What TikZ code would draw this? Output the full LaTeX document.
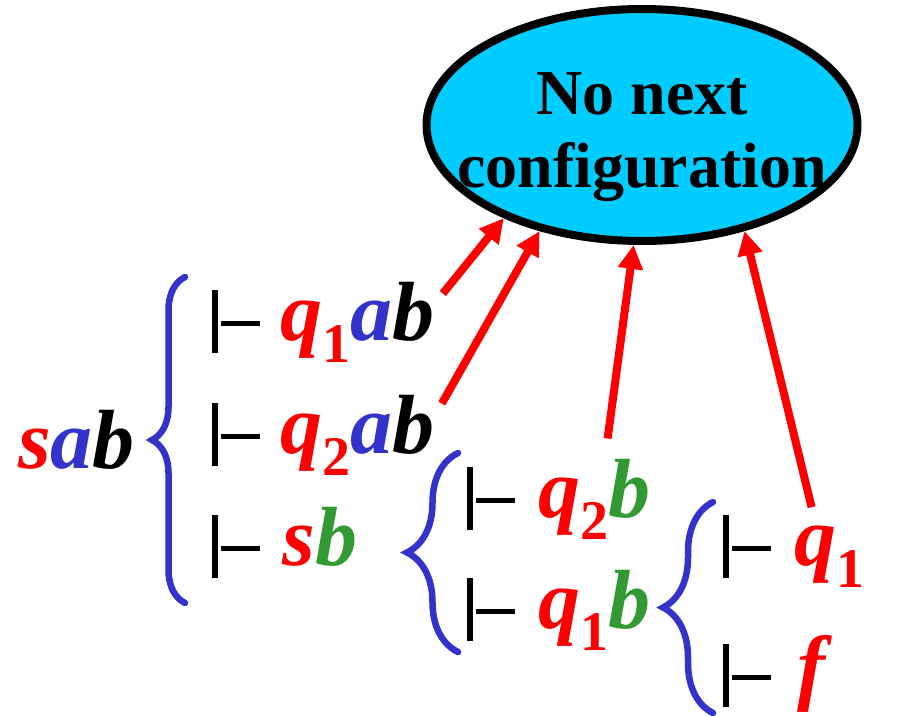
\documentclass[tikz,border=0pt]{standalone}
\usepackage{fontspec}
\setmainfont{Liberation Serif}
\usetikzlibrary{positioning,arrows.meta,decorations.pathreplacing,shapes.geometric}

\definecolor{arred}{HTML}{FF0000}
\definecolor{grpblue}{HTML}{3333CC}
\definecolor{symgreen}{HTML}{339933}
\definecolor{haltcyan}{HTML}{00CCFF}

% turnstile, built from two rules
\newcommand\tst{\rule[-13pt]{6pt}{63pt}\hspace{3pt}\rule[14pt]{39pt}{5pt}}
\newcommand\sbs[1]{\raisebox{-22pt}{\upshape\fontsize{56}{56}\selectfont #1}}

\begin{document}
\begin{tikzpicture}[x=1pt,y=-1pt,
  conf/.style={inner sep=0pt,font=\fontsize{84}{90}\selectfont\bfseries\itshape},
  ts/.style={inner sep=0pt,anchor=base west},
  halt/.style={ellipse,draw=black,line width=8pt,fill=haltcyan,minimum width=431pt,minimum height=232pt,inner sep=0pt},
  hlbl/.style={align=center,inner sep=0pt,font=\fontsize{64}{73}\selectfont\bfseries},
  grp/.style={draw=grpblue,line width=6.5pt,line cap=round,decorate},
  ar/.style={-{Triangle[length=24pt,width=24pt]},line width=8pt,draw=arred,fill=arred}]
\useasboundingbox (0,0) rectangle (897,715);
\node[halt](cfg) at (642,125) {};
\node[hlbl](cfgl) at (642,137) {No next\\configuration};
% start configuration
\node[conf,anchor=base west](c0) at (18,468) {\textcolor{arred}{s}\textcolor{grpblue}{a}b};
\node[ts](y1) at (212,340) {\tst};
\node[conf,base right=20pt of y1](c1) {\textcolor{arred}{q\sbs{1}}\textcolor{grpblue}{a}b};
\node[ts](y2) at (212,453) {\tst};
\node[conf,base right=20pt of y2](c2) {\textcolor{arred}{q\sbs{2}}\textcolor{grpblue}{a}b};
\node[ts](y3) at (212,565) {\tst};
\node[conf,base right=22pt of y3](c3) {\textcolor{arred}{s}\textcolor{symgreen}{b}};
% from sb
\node[ts](y4) at (467,517) {\tst};
\node[conf,base right=23pt of y4](c4) {\textcolor{arred}{q\sbs{2}}\textcolor{symgreen}{b}};
\node[ts](y5) at (467,628) {\tst};
\node[conf,base right=23pt of y5](c5) {\textcolor{arred}{q\sbs{1}}\textcolor{symgreen}{b}};
% from q1b
\node[ts](y6) at (723,565) {\tst};
\node[conf,base right=23pt of y6](c6) {\textcolor{arred}{q\sbs{1}}};
\node[ts](y7) at (723,694) {\tst};
\node[conf,base right=26pt of y7](c7) {\textcolor{arred}{f}};
% braces
\draw[grp,decoration={brace,amplitude=33pt}] (185,603) -- (185,277);
\draw[grp,decoration={brace,amplitude=51pt}] (458,652) -- (458,453);
\draw[grp,decoration={brace,amplitude=50pt}] (713,713) -- (713,502);
% halting arrows
\draw[ar]([xshift=8pt,yshift=-12pt]c1.north east)--(cfg.214);
\draw[ar]([xshift=7pt,yshift=-9pt]c2.north east)--(cfg.226);
\draw[ar]([xshift=13pt,yshift=20pt]c4.north)--(cfg.266);
\draw[ar]([xshift=-18pt,yshift=18pt]c6.north)--(cfg.314);
\end{tikzpicture}
\end{document}
